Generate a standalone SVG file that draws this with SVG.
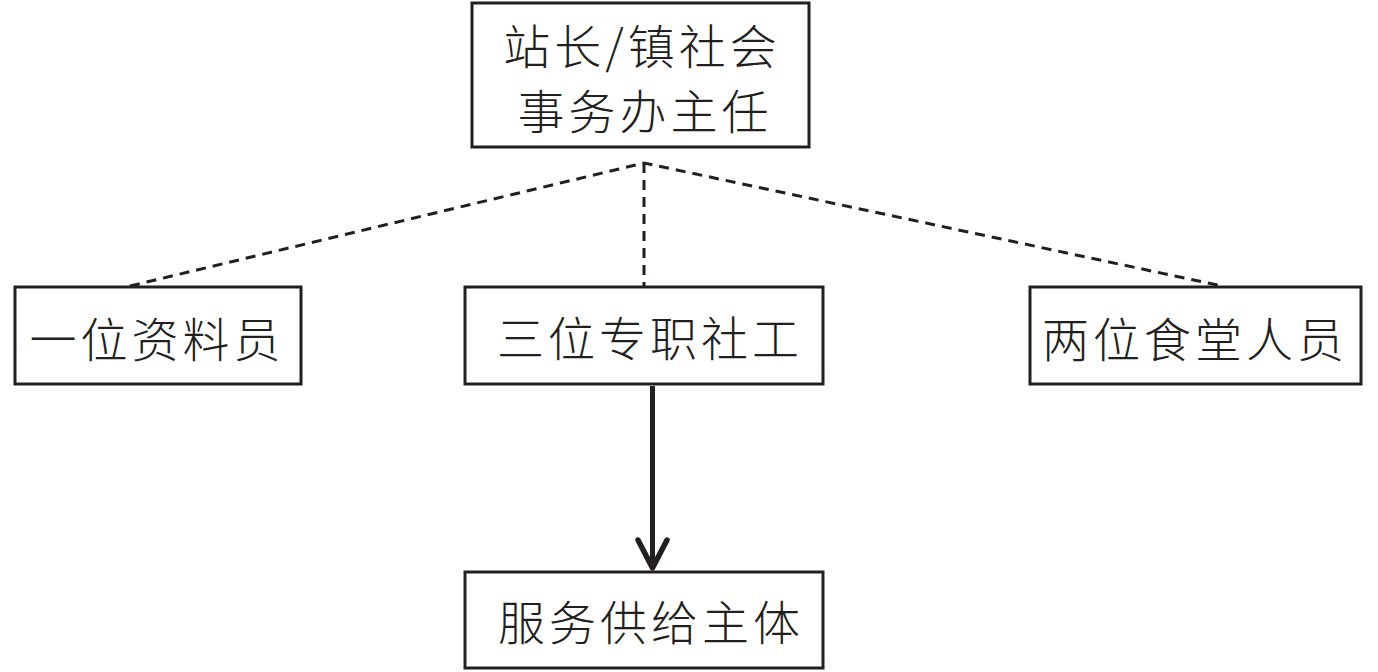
<svg xmlns="http://www.w3.org/2000/svg" width="1378" height="672" viewBox="0 0 1378 672">
<style>
.box{fill:#fff;stroke:#231f20;stroke-width:3}
.t{font-family:"Noto Sans CJK SC","Liberation Sans",sans-serif;font-weight:300;font-size:47px;fill:#231f20;text-anchor:middle;dominant-baseline:central;letter-spacing:4px}
.dash{fill:none;stroke:#231f20;stroke-width:3;stroke-dasharray:10 7}
.solid{fill:none;stroke:#231f20;stroke-width:5;stroke-linecap:round;stroke-linejoin:round}
</style>
<rect width="1378" height="672" fill="#fff"/>
<g id="connectors">
<path class="dash" d="M130,286 L644,163 L1222,286"/>
<path class="dash" d="M644,163 L644,286"/>
<path class="solid" d="M652.5,386 L652.5,567" style="stroke-linecap:butt"/>
<path class="solid" d="M638,540 L652.5,568 L667,540" style="stroke-width:5.5"/>
</g>
<g id="node-top">
<rect class="box" x="472" y="3" width="337" height="144"/>
<text class="t" x="642" y="43">站长/镇社会</text>
<text class="t" x="645" y="108">事务办主任</text>
</g>
<g id="node-left">
<rect class="box" x="15" y="287" width="286" height="97"/>
<text class="t" x="157" y="336">一位资料员</text>
</g>
<g id="node-middle">
<rect class="box" x="465" y="287" width="358" height="97"/>
<text class="t" x="650" y="335">三位专职社工</text>
</g>
<g id="node-right">
<rect class="box" x="1030" y="287" width="331" height="97"/>
<text class="t" x="1195" y="336">两位食堂人员</text>
</g>
<g id="node-bottom">
<rect class="box" x="465" y="572" width="358" height="96"/>
<text class="t" x="651" y="619">服务供给主体</text>
</g>
</svg>
